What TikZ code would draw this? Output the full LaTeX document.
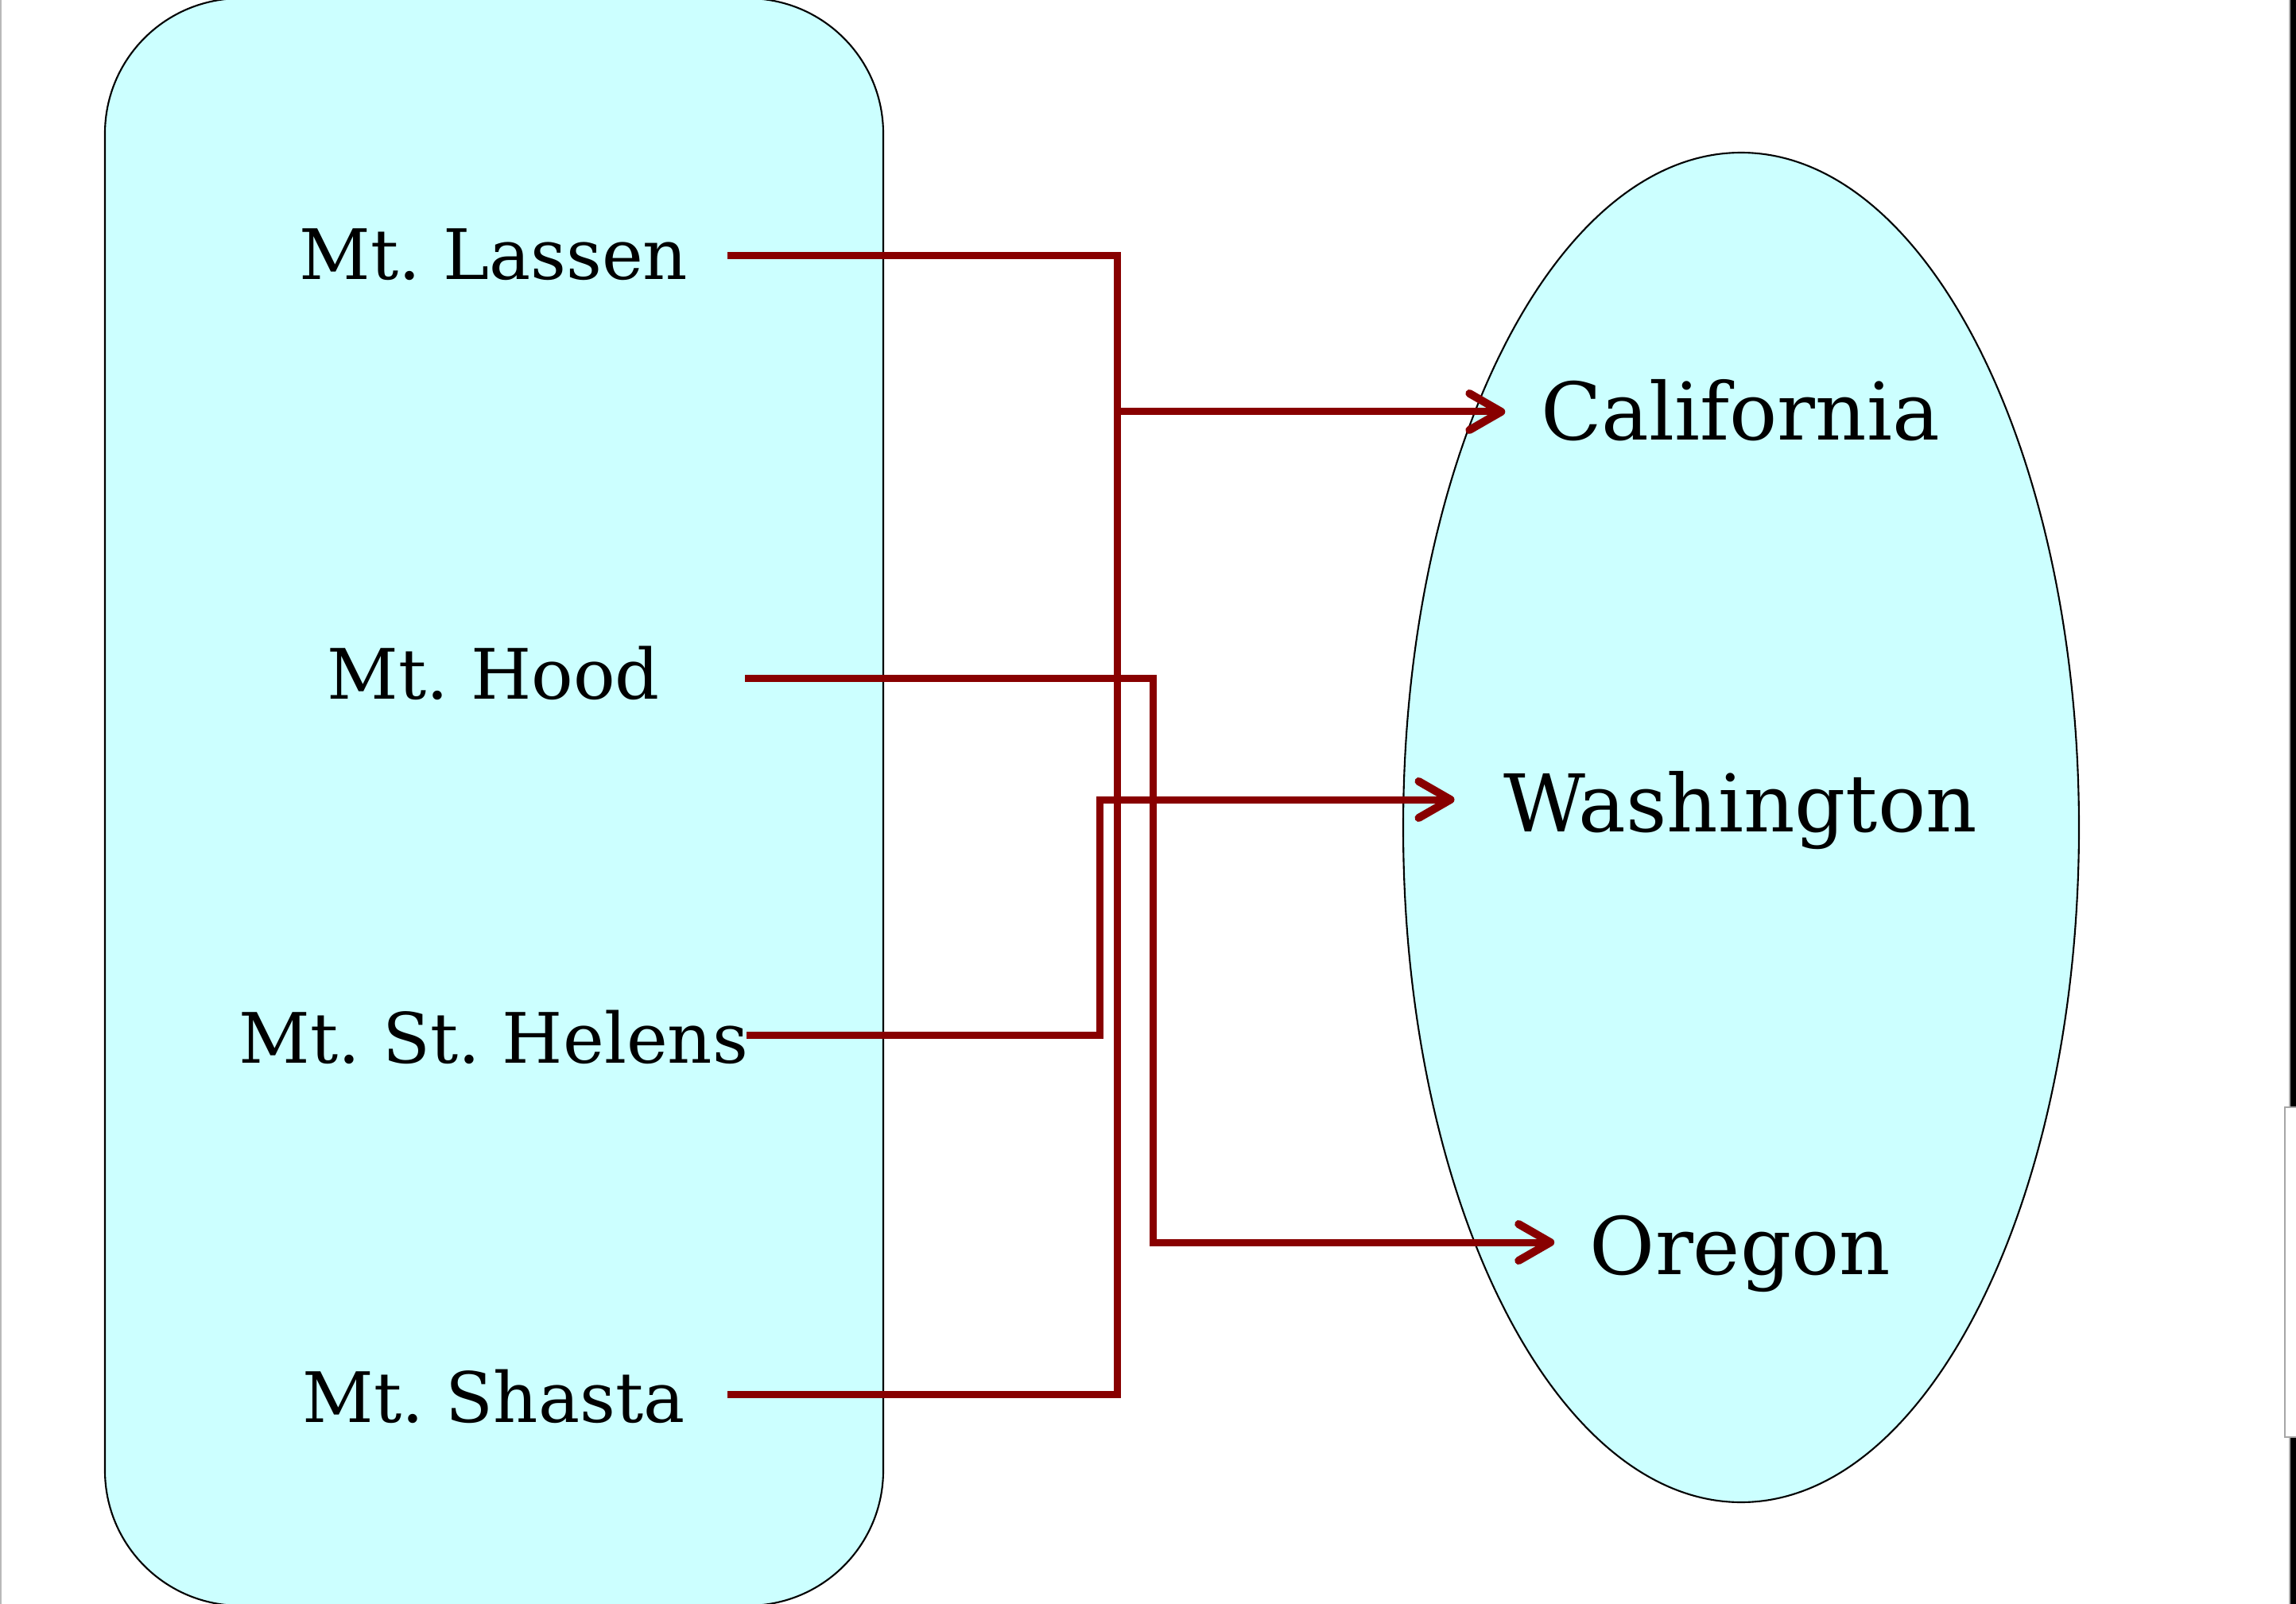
\documentclass[tikz,border=0pt]{standalone}
\usepackage{fontspec}
\setmainfont{DejaVu Serif}
\usetikzlibrary{arrows.meta,calc}
\definecolor{boxfill}{RGB}{204,255,255}
\definecolor{wire}{RGB}{136,0,0}
\frenchspacing
\begin{document}
\begin{tikzpicture}[
  wirestyle/.style={draw=wire, line width=0.09cm},
  arrowwire/.style={wirestyle, -{Straight Barb[length=0.4cm,width=0.46cm,round,line width=0.1cm]}},
  mtlabel/.style={font=\fontsize{24.9}{30}\selectfont, inner sep=0pt, anchor=base},
  statelabel/.style={font=\fontsize{28.5}{34}\selectfont, inner ysep=0pt, anchor=base},
]
\useasboundingbox (0,0) rectangle (28.88,-20.18);
\fill[white] (0,0) rectangle (28.88,-20.18);
% screenshot edges
\fill[gray!55] (0,0) rectangle (0.025,-20.18);
\fill[gray!60] (28.79,0) rectangle (28.81,-20.18);
\fill[black] (28.81,0) rectangle (28.88,-20.18);
\draw[gray!70, fill=white, line width=0.5pt] (28.74,-13.93) rectangle (28.92,-18.08);

% containers
\draw[black, fill=boxfill, line width=0.6pt, rounded corners=1.7cm] (1.32,0.02) rectangle (11.11,-20.20);
\draw[black, fill=boxfill, line width=0.6pt] (21.90,-10.41) ellipse [x radius=4.25, y radius=8.49];

% labels
\node[mtlabel] (lassen) at (6.21,-3.52) {Mt. Lassen};
\node[mtlabel] (hood)   at (6.21,-8.79) {Mt. Hood};
\node[mtlabel] (helens) at (6.21,-13.37) {Mt. St. Helens};
\node[mtlabel] (shasta) at (6.21,-17.89) {Mt. Shasta};

\node[statelabel, inner xsep=0.44cm] (cal)  at (21.89,-5.54) {California};
\node[statelabel, inner xsep=0.61cm] (wash) at (21.89,-10.46) {Washington};
\node[statelabel, inner xsep=0.44cm] (ore)  at (21.89,-16.03) {Oregon};

% connector points
\coordinate (sL)  at (9.15,-3.22);
\coordinate (sH)  at (9.37,-8.53);
\coordinate (sSH) at (9.39,-13.02);
\coordinate (sS)  at (9.15,-17.54);
\coordinate (trunk) at (14.05,-5.18);
\coordinate (hbend) at (14.50,-8.53);
\coordinate (wbend) at (13.83,-13.02);
\coordinate (rowW) at (0,-10.06);
\coordinate (rowO) at (0,-15.63);

% connectors
\draw[wirestyle] (sL) -| (trunk |- sS) -- (sS);
\draw[arrowwire] (trunk) -- (cal.west |- trunk);
\draw[arrowwire] (sH) -- (hbend) |- (ore.west |- rowO);
\draw[arrowwire] (sSH) -- (wbend) |- (wash.west |- rowW);
\end{tikzpicture}
\end{document}
